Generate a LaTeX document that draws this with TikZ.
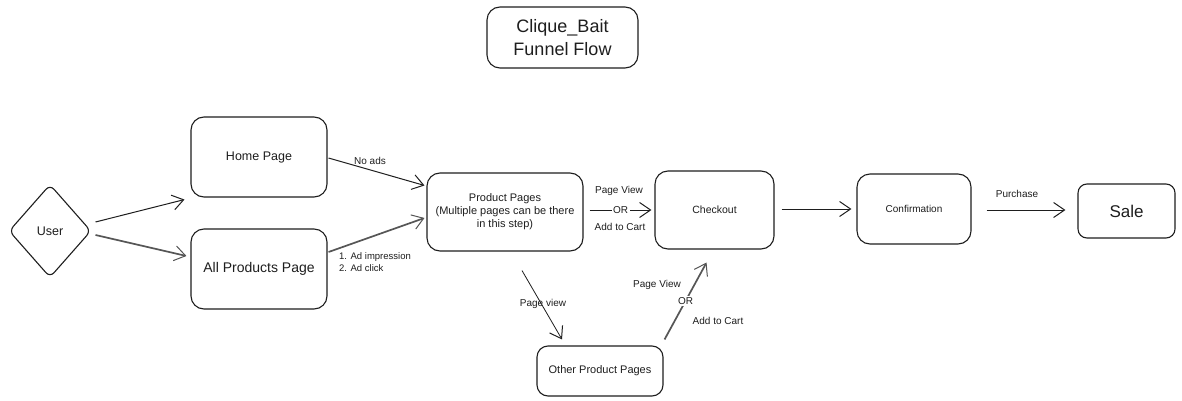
\documentclass[tikz,border=0pt]{standalone}
\usepackage{fontspec}
\setmainfont{Liberation Sans}
\usetikzlibrary{shapes.geometric,arrows.meta,calc}
\definecolor{ink}{HTML}{1E1E1E}
\tikzset{
  box/.style={draw=ink, line width=1.1pt, rounded corners=13pt, align=center, inner sep=0pt, text=ink},
  lbl/.style={text=ink, inner sep=1pt, font=\fontsize{10}{12}\selectfont},
  conn/.style={draw=ink, line width=1pt, -{Straight Barb[length=11pt,width=15pt,line width=1pt]}},
  thick conn/.style={conn, line width=1.7pt, draw=ink!75},
}
\begin{document}
\begin{tikzpicture}[x=1pt,y=-1pt]
\useasboundingbox (0,0) rectangle (1182,401);
\fill[white] (0,0) rectangle (1182,401);

\node[box, minimum width=151pt, minimum height=61pt, font=\fontsize{18}{23}\selectfont] (title) at (562.5,37.5) {Clique\_Bait\\Funnel Flow};

\node[draw=ink, line width=1.1pt, diamond, rounded corners=6pt, minimum width=82pt, minimum height=93pt, inner sep=0pt, text=ink, font=\fontsize{12.5}{14}\selectfont] (user) at (50,231) {User};

\node[box, minimum width=136pt, minimum height=80pt, font=\fontsize{12.5}{14}\selectfont] (home) at (259,157) {Home Page};
\node[box, minimum width=136pt, minimum height=80pt, font=\fontsize{14}{16}\selectfont] (allprod) at (259,269) {All Products Page};
\node[box, minimum width=156pt, minimum height=78pt, font=\fontsize{11}{13}\selectfont] (prod) at (505,212) {Product Pages\\(Multiple pages can be there\\in this step)};
\node[box, minimum width=119pt, minimum height=78pt, font=\fontsize{10.5}{12}\selectfont] (checkout) at (714.5,210) {Checkout};
\node[box, minimum width=114pt, minimum height=70pt, font=\fontsize{10}{12}\selectfont] (conf) at (914,209) {Confirmation};
\node[box, minimum width=97pt, minimum height=54pt, rounded corners=9pt, font=\fontsize{17}{19}\selectfont] (sale) at (1126.5,211) {Sale};
\node[box, minimum width=126pt, minimum height=50pt, rounded corners=11pt, font=\fontsize{11}{12}\selectfont] (other) at (600,371) {Other Product Pages};

% connectors
\draw[conn] ($(user.east)+(4,-9)$) -- ($(home.south west)+(-6,2)$);
\draw[thick conn] ($(user.east)+(4,4)$) -- ($(allprod.west)+(-4,-13)$);
\draw[conn] ($(home.east)+(1,1)$) -- ($(prod.north west)+(-2,13)$);
\draw[thick conn] ($(allprod.east)+(1,-17)$) -- ($(prod.west)+(-2,6)$);
\draw[conn] ($(prod.east)+(6,-2)$) -- node[fill=white, lbl, inner sep=1.5pt] (or1) {OR} ($(checkout.west)+(-3,0)$);
\draw[conn] ($(checkout.east)+(7,-1)$) -- ($(conf.west)+(-5,0)$);
\draw[conn] ($(conf.east)+(15,1)$) -- ($(sale.west)+(-12,-1)$);
\draw[conn, line width=0.8pt] ($(prod.south)+(17,19)$) -- ($(other.north)+(-38,-6)$);
\draw[thick conn] ($(other.north east)+(1,-6)$) -- node[pos=0.5, fill=white, lbl, inner sep=1.5pt] (or2) {OR} ($(checkout.south)+(-8,13)$);

% labels
\node[lbl] (noads) at (370,161) {No ads};
\node[lbl, anchor=west, align=left, font=\fontsize{9.5}{11.5}\selectfont] (adlbl) at (338,262) {1. Ad impression\\2. Ad click};
\node[lbl] (pv1) at (619,191) {Page View};
\node[lbl] (atc1) at (620,227) {Add to Cart};
\node[lbl] (purch) at (1017,194) {Purchase};
\node[lbl] (pv2) at (543,304) {Page view};
\node[lbl] (pv3) at (657,285) {Page View};
\node[lbl] (atc2) at (718,321) {Add to Cart};
\end{tikzpicture}
\end{document}
